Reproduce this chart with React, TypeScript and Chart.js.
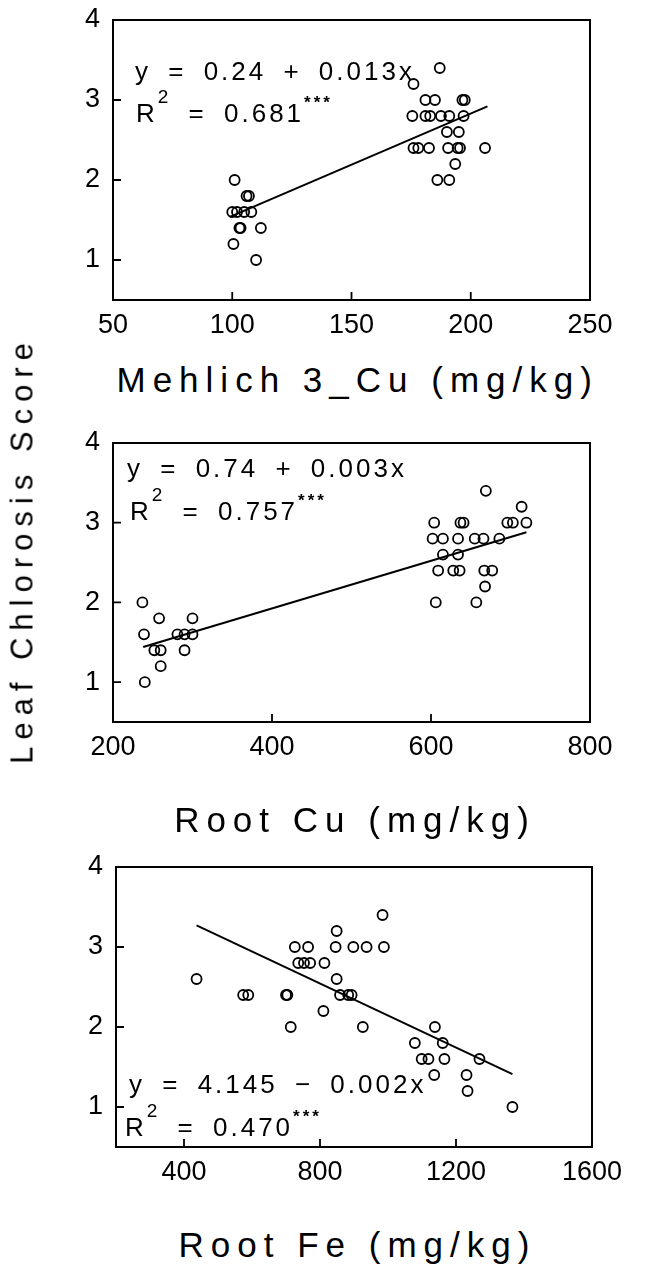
import React, { useEffect, useRef } from "react";
import { Chart, registerables } from "chart.js";
Chart.register(...registerables);

const FONT = '"Liberation Sans", Arial, Helvetica, sans-serif';

// ---------- Data ----------
const yTicks = [1, 2, 3, 4];

// Panel 1: Mehlich 3_Cu
const mehlichCu = [101, 106, 107, 100, 102, 105, 108, 103, 103.5, 112, 100.5, 110,
  187, 176, 181, 185, 196.5, 197.5, 175.5, 181, 183, 187.5, 191, 197, 190, 195,
  176, 178, 182.5, 190.5, 194.5, 195.5, 206, 193.5, 186, 191];
const score1 = [2.0, 1.8, 1.8, 1.6, 1.6, 1.6, 1.6, 1.4, 1.4, 1.4, 1.2, 1.0,
  3.4, 3.2, 3.0, 3.0, 3.0, 3.0, 2.8, 2.8, 2.8, 2.8, 2.8, 2.8, 2.6, 2.6,
  2.4, 2.4, 2.4, 2.4, 2.4, 2.4, 2.4, 2.2, 2.0, 2.0];
const fit1X = [99, 207];
const fit1Y = [1.54, 2.92];
const xTicks1 = [50, 100, 150, 200, 250];

// Panel 2: Root Cu
const rootCu = [237, 258, 300, 239, 281, 290, 300, 252, 260, 290, 260, 240,
  669, 714, 604, 637, 641, 696, 703, 720, 602, 615, 634, 655, 666, 686,
  615, 634, 609, 628, 636, 667, 677, 668, 606, 657];
const score2 = [2.0, 1.8, 1.8, 1.6, 1.6, 1.6, 1.6, 1.4, 1.4, 1.4, 1.2, 1.0,
  3.4, 3.2, 3.0, 3.0, 3.0, 3.0, 3.0, 3.0, 2.8, 2.8, 2.8, 2.8, 2.8, 2.8,
  2.6, 2.6, 2.4, 2.4, 2.4, 2.4, 2.4, 2.2, 2.0, 2.0];
const fit2X = [238, 720];
const fit2Y = [1.44, 2.88];
const xTicks2 = [200, 400, 600, 800];

// Panel 3: Root Fe
const rootFe = [437, 574, 589, 700, 704, 714, 726, 765, 736, 753, 771, 813, 810,
  849, 846, 849, 859, 883, 893, 898, 937, 984, 988, 926, 1138, 1079, 1161,
  1099, 1119, 1166, 1269, 1136, 1231, 1234, 1366];
const score3 = [2.6, 2.4, 2.4, 2.4, 2.4, 2.0, 3.0, 3.0, 2.8, 2.8, 2.8, 2.8, 2.2,
  3.2, 3.0, 2.6, 2.4, 2.4, 2.4, 3.0, 3.0, 3.4, 3.0, 2.0, 2.0, 1.8, 1.8,
  1.6, 1.6, 1.6, 1.6, 1.4, 1.4, 1.2, 1.0];
const fit3X = [437, 1366];
const fit3Y = [3.27, 1.41];
const xTicks3 = [400, 800, 1200, 1600];

const eqLines = ["y = 0.24 + 0.013x", "y = 0.74 + 0.003x", "y = 4.145 \u2212 0.002x"];
const r2Values = ["0.681", "0.757", "0.470"];
const xTitles = ["Mehlich 3_Cu (mg/kg)", "Root Cu (mg/kg)", "Root Fe (mg/kg)"];
const yTitle = "Leaf Chlorosis Score";

// ---------- Chart ----------
const framePlugin = {
  id: "frame",
  afterDatasetsDraw(chart: any) {
    const { ctx, chartArea: a, scales } = chart;
    ctx.save();
    ctx.strokeStyle = "#000";
    ctx.lineWidth = 2;
    ctx.strokeRect(a.left, a.top, a.right - a.left, a.bottom - a.top);
    ctx.lineWidth = 1.8;
    const xs = scales.x;
    const ys = scales.y;
    ctx.beginPath();
    xs.ticks.forEach((t: any) => {
      if (t.value > xs.min && t.value < xs.max) {
        const p = xs.getPixelForValue(t.value);
        ctx.moveTo(p, a.bottom);
        ctx.lineTo(p, a.bottom - 8);
      }
    });
    ys.ticks.forEach((t: any) => {
      if (t.value > ys.min && t.value < ys.max) {
        const p = ys.getPixelForValue(t.value);
        ctx.moveTo(a.left, p);
        ctx.lineTo(a.left + 8, p);
      }
    });
    ctx.stroke();
    ctx.restore();
  },
};

type PanelProps = {
  xs: number[];
  ys: number[];
  fx: number[];
  fy: number[];
  xMin: number;
  xMax: number;
  xTicks: number[];
  plotTop: number;
  plotBottom: number;
  plotLeft: number;
  plotRight: number;
};

const W = 650;
const X_AXIS_H = 50;
const TOP_PAD = 40;

function Panel(p: PanelProps) {
  const ref = useRef<HTMLCanvasElement | null>(null);
  const canvasTop = p.plotTop - TOP_PAD;
  const h = p.plotBottom + X_AXIS_H - canvasTop;
  useEffect(() => {
    if (!ref.current) return;
    const pts = p.xs.map((x, i) => ({ x, y: p.ys[i] }));
    const fit = p.fx.map((x, i) => ({ x, y: p.fy[i] }));
    const chart = new Chart(ref.current, {
      type: "scatter",
      data: {
        datasets: [
          {
            data: pts,
            showLine: false,
            pointRadius: 5,
            pointBorderWidth: 1.8,
            pointBackgroundColor: "rgba(0,0,0,0)",
            pointBorderColor: "#000",
            pointStyle: "circle",
          },
          {
            data: fit,
            showLine: true,
            borderColor: "#000",
            borderWidth: 2,
            pointRadius: 0,
            fill: false,
          },
        ],
      },
      options: {
        animation: false,
        responsive: false,
        events: [],
        layout: {
          autoPadding: false,
          padding: { left: 0, right: W - p.plotRight, top: TOP_PAD, bottom: 0 },
        },
        plugins: { legend: { display: false }, tooltip: { enabled: false } },
        scales: {
          x: {
            type: "linear",
            min: p.xMin,
            max: p.xMax,
            afterBuildTicks: (s: any) => {
              s.ticks = p.xTicks.map((v) => ({ value: v }));
            },
            afterFit: (s: any) => {
              s.height = X_AXIS_H;
            },
            grid: { display: false, drawTicks: false },
            border: { display: false },
            ticks: {
              color: "#000",
              font: { family: FONT, size: 27 },
              padding: 9,
              maxRotation: 0,
              autoSkip: false,
              callback: (v: any) => String(v),
            },
          },
          y: {
            type: "linear",
            min: 0.5,
            max: 4,
            afterBuildTicks: (s: any) => {
              s.ticks = yTicks.map((v) => ({ value: v }));
            },
            afterFit: (s: any) => {
              s.width = p.plotLeft;
            },
            grid: { display: false, drawTicks: false },
            border: { display: false },
            ticks: {
              color: "#000",
              font: { family: FONT, size: 27 },
              padding: 13,
              autoSkip: false,
              callback: (v: any) => String(v),
            },
          },
        },
      },
      plugins: [framePlugin],
    });
    return () => chart.destroy();
  }, []);
  return (
    <canvas
      ref={ref}
      width={W}
      height={h}
      style={{ position: "absolute", left: 0, top: canvasTop, width: W, height: h }}
    />
  );
}

function Equation(props: { left1: number; base1: number; left2: number; base2: number; line: string; r2: string }) {
  const common: React.CSSProperties = {
    position: "absolute",
    fontSize: 26,
    lineHeight: "26px",
    letterSpacing: 3,
    wordSpacing: 7,
    whiteSpace: "pre",
    fontFamily: FONT,
    color: "#000",
  };
  return (
    <>
      <div style={{ ...common, left: props.left1, top: props.base1 - 22 }}>{props.line}</div>
      <div style={{ ...common, left: props.left2, top: props.base2 - 22 }}>
        R<span style={{ position: "relative", top: -19, fontSize: 19 }}>2</span> = {props.r2}
        <span style={{ position: "relative", top: -14, fontSize: 17, fontWeight: "bold", letterSpacing: 3 }}>***</span>
      </div>
    </>
  );
}

function XTitle(props: { text: string; left: number; width: number; base: number }) {
  return (
    <div
      style={{
        position: "absolute",
        left: props.left + 3.5,
        width: props.width,
        top: props.base - 29.6,
        textAlign: "center",
        fontSize: 35,
        lineHeight: "35px",
        letterSpacing: 7,
        whiteSpace: "nowrap",
        fontFamily: FONT,
        color: "#000",
      }}
    >
      {props.text}
    </div>
  );
}

export default function App() {
  return (
    <div
      style={{
        position: "absolute",
        left: 0,
        top: 0,
        width: 650,
        height: 1267,
        background: "#fff",
        overflow: "hidden",
        fontFamily: FONT,
      }}
    >
      <Panel xs={mehlichCu} ys={score1} fx={fit1X} fy={fit1Y} xMin={50} xMax={250} xTicks={xTicks1}
        plotTop={20} plotBottom={300} plotLeft={113} plotRight={590} />
      <Panel xs={rootCu} ys={score2} fx={fit2X} fy={fit2Y} xMin={200} xMax={800} xTicks={xTicks2}
        plotTop={443} plotBottom={722} plotLeft={113} plotRight={590} />
      <Panel xs={rootFe} ys={score3} fx={fit3X} fy={fit3Y} xMin={200} xMax={1600} xTicks={xTicks3}
        plotTop={867} plotBottom={1147} plotLeft={116} plotRight={592} />

      <Equation left1={135} base1={80} left2={136} base2={122} line={eqLines[0]} r2={r2Values[0]} />
      <Equation left1={127} base1={477} left2={130} base2={520} line={eqLines[1]} r2={r2Values[1]} />
      <Equation left1={129} base1={1093} left2={125} base2={1136} line={eqLines[2]} r2={r2Values[2]} />

      <XTitle text={xTitles[0]} left={113} width={477} base={392} />
      <XTitle text={xTitles[1]} left={113} width={477} base={832} />
      <XTitle text={xTitles[2]} left={116} width={476} base={1257} />

      <div
        style={{
          position: "absolute",
          left: 22,
          top: 550,
          transform: "translate(-50%, -50%) rotate(-90deg)",
          fontSize: 31,
          lineHeight: "31px",
          letterSpacing: 7,
          whiteSpace: "nowrap",
          fontFamily: FONT,
          color: "#000",
        }}
      >
        {yTitle}
      </div>
    </div>
  );
}
